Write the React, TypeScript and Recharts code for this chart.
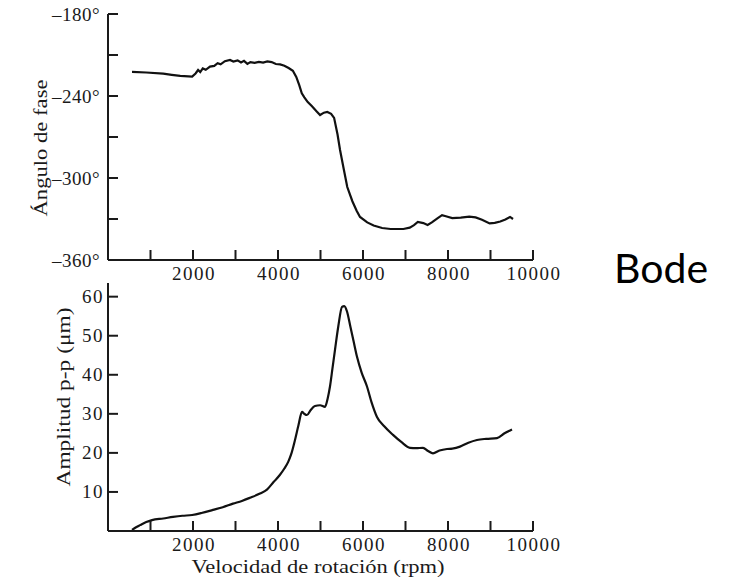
import React from 'react';
import { LineChart, Line, XAxis, YAxis } from 'recharts';

// speed axis ticks (every 1000 rpm, labelled every 2000)
const rpmTicks = [1000, 2000, 3000, 4000, 5000, 6000, 7000, 8000, 9000, 10000];
const phaseTicks = [-360, -330, -300, -270, -240, -210, -180];
const ampTicks = [10, 20, 30, 40, 50, 60];

// phase angle (deg) vs speed
const phaseRpm = [
  565, 900, 1300, 1500, 1700, 1980, 2060, 2120, 2170, 2230, 2300, 2400, 2500, 2580,
  2650, 2750, 2870, 2950, 3050, 3130, 3200, 3280, 3350, 3450, 3550, 3650, 3750, 3850,
  3950, 4050, 4150, 4250, 4350, 4430, 4500, 4560, 4620, 4700, 4800, 4900, 4990, 5080,
  5160, 5250, 5320, 5400, 5460, 5550, 5630, 5750, 5850, 5930, 6100, 6250, 6450, 6650,
  6950, 7100, 7200, 7290, 7420, 7520, 7620, 7750, 7860, 7950, 8100, 8300, 8500, 8650,
  8800, 8980, 9100, 9230, 9350, 9460, 9530,
];
const phaseDeg = [
  -222.4, -222.8, -223.6, -224.5, -225.3, -225.8, -223.5, -221.0, -222.5, -219.8, -220.8, -218.5, -218.0, -216.0,
  -216.8, -214.5, -213.6, -214.8, -213.9, -215.5, -214.3, -216.5, -215.2, -215.8, -215.0, -215.6, -214.7, -215.2,
  -216.6, -216.9, -217.8, -219.5, -221.5, -226, -232, -238, -241, -244.5, -247.5, -251, -253.9, -252.2,
  -251.7, -253.0, -256, -268, -279.5, -294, -306.6, -317, -324, -328.5, -332.5, -334.8, -336.6, -337.3,
  -337.3, -336.3, -334.5, -332.2, -333.0, -334.4, -332.5, -329.5, -327.2, -328.0, -329.3, -329.0, -328.3, -328.8,
  -330.5, -333.2, -332.8, -331.8, -330.3, -328.5, -330.0,
];

// peak-to-peak amplitude (um) vs speed
const ampRpm = [
  565, 650, 753, 900, 1035, 1300, 1530, 1750, 1980, 2200, 2470, 2700, 2940, 3150,
  3340, 3576, 3740, 3900, 4047, 4150, 4240, 4320, 4400, 4480, 4565, 4620, 4680,
  4770, 4870, 4990, 5106, 5170, 5223, 5280, 5341, 5420, 5506, 5560, 5624, 5700, 5780,
  5859, 5970, 6094, 6200, 6329, 6500, 6706, 6900, 7106, 7250, 7412, 7530, 7647, 7800,
  7976, 8100, 8282, 8480, 8682, 8900, 9153, 9341, 9506,
];
const ampUm = [
  0.3, 0.9, 1.5, 2.3, 2.8, 3.2, 3.6, 3.9, 4.1, 4.6, 5.4, 6.1, 7.0, 7.7,
  8.5, 9.6, 10.6, 12.6, 14.4, 16.0, 17.7, 20, 23.3, 27, 30.5, 30.0, 29.7,
  31.0, 32.0, 32.2, 31.8, 34, 37, 41.5, 46.4, 52.5, 57.4, 57.6, 56.2, 52.5, 48.5,
  44.6, 40.5, 37, 33, 29.2, 26.8, 24.6, 22.8, 21.3, 21.2, 21.3, 20.5, 19.9, 20.6,
  21.0, 21.1, 21.6, 22.6, 23.3, 23.6, 23.8, 25.1, 26,
];

const phaseData = phaseRpm.map((rpm, i) => ({ rpm, deg: phaseDeg[i] }));
const ampData = ampRpm.map((rpm, i) => ({ rpm, amp: ampUm[i] }));

const W = 734;
const H = 579;
const SERIF = '"Liberation Serif", "Times New Roman", serif';
const INK = '#1a1a1a';
const TICK_LEN = 10;

const axisLine = { stroke: INK, strokeWidth: 2 };

// ticks point into the plot, labels sit outside
const RpmTick = (props: any) => {
  const { x, y, payload } = props;
  const v = payload.value;
  return (
    <g>
      <path d={`M${x},${y}V${y - TICK_LEN}`} stroke={INK} strokeWidth={2} fill="none" />
      <text x={x + 1} y={y + 20} textAnchor="middle" fill={INK} fontSize={19} fontFamily={SERIF} letterSpacing={1.5}>
        {v % 2000 === 0 ? v : ''}
      </text>
    </g>
  );
};

const PhaseTick = (props: any) => {
  const { x, y, payload } = props;
  const v = payload.value;
  return (
    <g>
      <path d={`M${x},${y}H${x + TICK_LEN}`} stroke={INK} strokeWidth={2} fill="none" />
      <text x={x - 8} y={y + 6.5} textAnchor="end" fill={INK} fontSize={19} fontFamily={SERIF} letterSpacing={0.5}>
        {v % 60 === 0 ? `${v}°`.replace('-', '–') : ''}
      </text>
    </g>
  );
};

const AmpTick = (props: any) => {
  const { x, y, payload } = props;
  return (
    <g>
      <path d={`M${x},${y}H${x + TICK_LEN}`} stroke={INK} strokeWidth={2} fill="none" />
      <text x={x - 4} y={y + 6.5} textAnchor="end" fill={INK} fontSize={19} fontFamily={SERIF} letterSpacing={1.5}>
        {payload.value}
      </text>
    </g>
  );
};

export default function App() {
  return (
    <div style={{ position: 'absolute', left: 0, top: 0, width: W, height: H, background: '#fff' }}>
      {/* phase plot: plot area x 108..533, y 14..260 */}
      <div style={{ position: 'absolute', left: 0, top: 0 }}>
        <LineChart width={W} height={H} data={phaseData} margin={{ top: 14, right: 201, bottom: 289, left: 48 }}>
          <XAxis
            dataKey="rpm"
            type="number"
            domain={[0, 10000]}
            ticks={rpmTicks}
            height={30}
            tickSize={0}
            tickMargin={0}
            axisLine={axisLine}
            tickLine={false}
            tick={<RpmTick />}
            interval={0}
          />
          <YAxis
            type="number"
            domain={[-360, -180]}
            ticks={phaseTicks}
            width={60}
            tickSize={0}
            tickMargin={0}
            axisLine={axisLine}
            tickLine={false}
            tick={<PhaseTick />}
            interval={0}
          />
          <Line dataKey="deg" type="linear" stroke="#111" strokeWidth={2.2} dot={false} isAnimationActive={false} />
        </LineChart>
      </div>

      {/* amplitude plot: plot area x 108..533, y 283..531 */}
      <div style={{ position: 'absolute', left: 0, top: 0 }}>
        <LineChart width={W} height={H} data={ampData} margin={{ top: 283, right: 201, bottom: 18, left: 48 }}>
          <XAxis
            dataKey="rpm"
            type="number"
            domain={[0, 10000]}
            ticks={rpmTicks}
            height={30}
            tickSize={0}
            tickMargin={0}
            axisLine={axisLine}
            tickLine={false}
            tick={<RpmTick />}
            interval={0}
          />
          <YAxis
            type="number"
            domain={[0, 63.5]}
            ticks={ampTicks}
            width={60}
            tickSize={0}
            tickMargin={0}
            axisLine={axisLine}
            tickLine={false}
            tick={<AmpTick />}
            interval={0}
          />
          <Line dataKey="amp" type="monotone" stroke="#111" strokeWidth={2.2} dot={false} isAnimationActive={false} />
        </LineChart>
      </div>

      {/* axis titles */}
      <svg width={W} height={H} style={{ position: 'absolute', left: 0, top: 0, pointerEvents: 'none' }}>
        <g fill={INK} fontFamily={SERIF} fontSize={18}>
          <text transform="translate(47,148) rotate(-90)" textAnchor="middle" textLength={137} lengthAdjust="spacingAndGlyphs">
            Ángulo de fase
          </text>
          <text transform="translate(70,397) rotate(-90)" textAnchor="middle" textLength={179} lengthAdjust="spacingAndGlyphs">
            Amplitud p-p (μm)
          </text>
          <text x={318} y={573} textAnchor="middle" textLength={253} lengthAdjust="spacingAndGlyphs">
            Velocidad de rotación (rpm)
          </text>
        </g>
        <text x={614} y={283} fill="#000" fontFamily="Lato, 'Open Sans', sans-serif" fontSize={41}>
          Bode
        </text>
      </svg>
    </div>
  );
}
